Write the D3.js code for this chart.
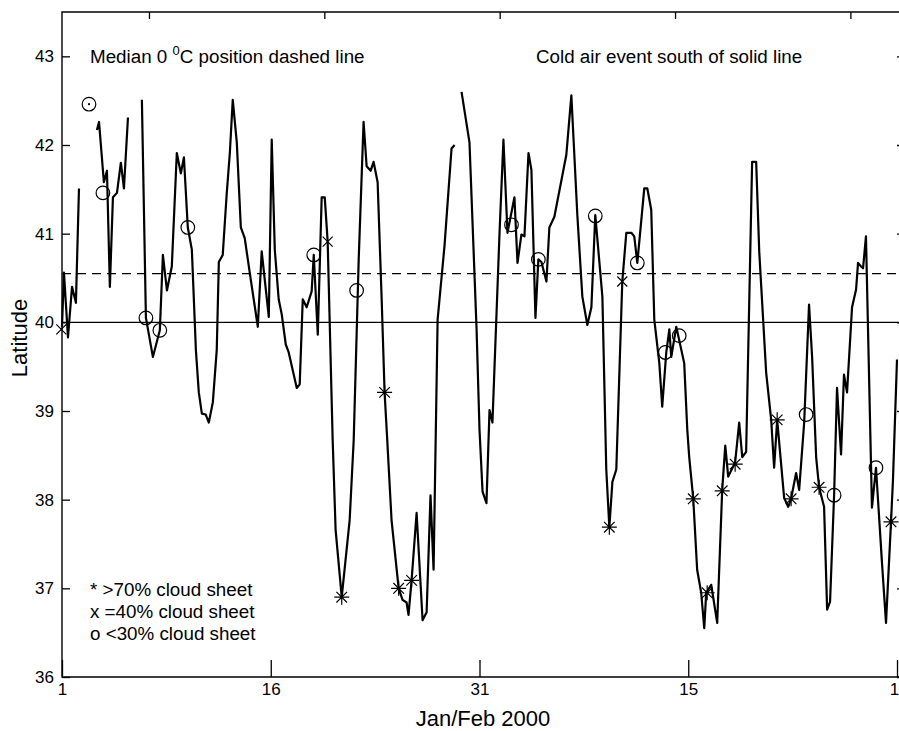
<!DOCTYPE html>
<html><head><meta charset="utf-8">
<script src="https://cdn.jsdelivr.net/npm/d3@7"></script>
<style>
body{margin:0;background:#fff;}
svg{display:block;font-family:"Liberation Sans",Arial,Helvetica,sans-serif;}
</style>
</head><body>
<svg id="chart" width="899" height="731"></svg>
<script>
// ---- data (day of Jan/Feb 2000 counted from Jan 1 = 1; latitude in degrees) ----
const days = [
  1.00,1.14,1.43,1.72,2.00,2.22,null,
  2.94,null,
  3.51,3.66,4.01,4.23,4.44,4.66,4.95,5.23,5.45,5.74,null,
  6.74,7.03,7.53,8.03,8.25,8.54,8.89,9.25,9.54,9.76,
  10.04,10.33,10.62,10.83,11.05,11.33,11.55,11.84,12.12,12.27,
  12.55,12.84,13.06,13.27,13.56,13.85,14.13,14.49,15.07,15.35,
  15.86,16.07,16.29,16.57,16.79,17.08,17.29,17.87,18.08,18.30,
  18.58,18.94,19.09,19.38,19.66,19.88,20.09,20.45,20.66,21.10,
  21.67,21.96,22.32,22.67,22.89,23.18,23.39,23.68,23.97,24.18,
  24.33,24.68,25.19,25.47,25.76,25.90,26.12,26.48,26.91,27.20,
  27.48,27.70,27.99,28.49,28.99,29.21,null,
  29.71,30.28,30.79,31.00,31.22,31.50,31.72,31.93,32.44,32.72,
  33.01,33.51,33.73,34.01,34.23,34.52,34.73,35.02,35.23,35.45,
  35.81,36.02,36.38,37.24,37.60,38.03,38.39,38.75,39.04,39.32,
  39.83,40.11,40.33,40.55,40.83,41.26,41.55,41.91,42.12,42.34,
  42.84,43.06,43.34,43.56,43.92,44.13,44.42,44.64,44.78,45.14,
  45.71,45.93,46.07,46.36,46.64,46.93,47.15,47.29,47.65,48.08,
  48.44,48.66,48.87,49.37,49.66,49.88,50.16,50.59,50.88,51.10,
  51.60,51.96,52.17,52.39,52.89,53.18,53.39,53.75,53.97,54.33,
  54.68,54.90,55.19,55.40,55.76,55.98,56.19,56.48,56.69,56.98,
  57.19,57.41,57.77,58.06,58.20,58.42,58.56,58.77,59.20,59.49,
  59.92,60.21,60.57,60.71,61.00
];
const latitude = [
  39.95,40.56,39.83,40.40,40.22,41.51,null,
  42.46,null,
  42.17,42.26,41.58,41.71,40.40,41.41,41.46,41.80,41.51,42.31,null,
  42.51,40.05,39.61,39.91,40.76,40.36,40.63,41.91,41.68,41.86,
  41.07,40.82,39.69,39.21,38.97,38.96,38.87,39.10,39.69,40.68,
  40.76,41.46,41.91,42.51,42.03,41.07,40.95,40.56,39.95,40.80,
  40.06,42.06,40.82,40.26,40.09,39.75,39.66,39.26,39.30,40.26,
  40.17,40.35,40.76,39.86,41.41,41.41,40.91,38.67,37.66,36.90,
  37.77,38.67,40.71,42.26,41.76,41.71,41.81,41.58,40.26,39.21,
  38.79,37.77,37.00,36.87,36.84,36.70,37.09,37.85,36.64,36.73,
  38.05,37.21,40.03,40.87,41.96,42.00,null,
  42.60,42.03,39.92,38.79,38.09,37.96,39.01,38.87,41.01,42.06,
  41.01,41.41,40.67,40.99,40.97,41.91,41.72,40.05,40.71,40.68,
  40.46,41.07,41.19,41.89,42.56,41.21,40.29,39.97,40.17,41.21,
  40.29,38.34,37.69,38.20,38.34,40.46,41.01,41.01,40.97,40.67,
  41.51,41.51,41.27,40.03,39.54,39.05,39.66,39.92,39.61,39.95,
  39.54,38.79,38.48,38.01,37.21,36.95,36.55,36.95,37.04,36.61,
  38.11,38.61,38.26,38.42,38.87,38.48,38.54,41.81,41.81,40.80,
  39.43,38.90,38.36,38.90,38.02,37.92,38.01,38.30,38.11,38.87,
  40.20,39.61,38.48,38.14,37.92,36.76,36.85,38.05,39.26,38.51,
  39.41,39.21,40.17,40.37,40.67,40.63,40.61,40.97,37.91,38.36,
  37.29,36.61,37.75,38.22,39.58
];
// markers: o <30% cloud sheet, x =40%, * >70%
const circleDays = [2.94,3.94,7.03,8.03,10.04,19.09,22.17,33.30,35.23,39.32,42.34,44.35,45.35,54.47,56.48,59.49];
const circleLat  = [42.46,41.46,40.05,39.91,41.07,40.76,40.36,41.10,40.71,41.20,40.67,39.66,39.85,38.96,38.05,38.36];
const crossDays = [0.95,20.09,41.26];
const crossLat  = [39.92,40.91,40.46];
const starDays = [21.10,24.18,25.19,26.12,40.33,46.36,47.36,48.44,49.37,52.39,53.39,55.40,60.57];
const starLat  = [36.90,39.21,37.00,37.09,37.69,38.01,36.95,38.10,38.40,38.90,38.01,38.14,37.75];

const medianLat = 40.55;   // dashed line
const coldLat = 40.0;      // solid line

const yTicks = [36,37,38,39,40,41,42,43];
const xTickDays = [1,16,31,46,61];
const xTickLabels = ["1","16","31","15","1"];
const topTickDays = [7.25,19.85,32.45,45.05,57.65];

const annotations = ["Cold air event south of solid line"];
const legendLines = ["* >70% cloud sheet","x =40% cloud sheet","o <30% cloud sheet"];

// ---- drawing ----
const svg = d3.select("#chart");
const L = 62, R = 905, T = 12, B = 677;
const x = d3.scaleLinear().domain([1,61]).range([62,897]);
const y = d3.scaleLinear().domain([36,43.5]).range([B,T]);

svg.append("rect").attr("width",899).attr("height",731).attr("fill","#fff");

// frame
svg.append("path")
  .attr("d",`M${L},${T}H${R}V${B}H${L}Z`)
  .attr("fill","none").attr("stroke","#000").attr("stroke-width",1.4);

// reference lines
svg.append("line").attr("x1",L).attr("x2",R).attr("y1",y(coldLat)).attr("y2",y(coldLat))
  .attr("stroke","#000").attr("stroke-width",1.2);
svg.append("line").attr("x1",L).attr("x2",R).attr("y1",y(medianLat)).attr("y2",y(medianLat))
  .attr("stroke","#000").attr("stroke-width",1.2).attr("stroke-dasharray","9,6");

// axes
function styleAxis(g){
  g.attr("font-family","'Liberation Sans',Arial,Helvetica,sans-serif").attr("font-size",17);
  g.select(".domain").remove();
  g.selectAll(".tick line").attr("stroke","#000").attr("stroke-width",1.3);
  g.selectAll(".tick text").attr("fill","#000");
}
svg.append("g").attr("transform",`translate(${L},0)`)
  .call(d3.axisLeft(y).tickValues(yTicks).tickFormat(d3.format("d")).tickSizeInner(-8).tickSizeOuter(0).tickPadding(8))
  .call(styleAxis);
svg.append("g").attr("transform",`translate(${R},0)`)
  .call(d3.axisRight(y).tickValues(yTicks).tickFormat("").tickSizeInner(-8).tickSizeOuter(0))
  .call(styleAxis);
const xAxisG = svg.append("g").attr("transform",`translate(0,${B})`)
  .call(d3.axisBottom(x).tickValues(xTickDays).tickFormat((d,i)=>xTickLabels[i]).tickSizeInner(-17).tickSizeOuter(0).tickPadding(6))
  .call(styleAxis);
// keep the last label inside the picture
xAxisG.selectAll(".tick text").filter((d,i)=>i===xTickDays.length-1).attr("dx",-3);
svg.append("g").attr("transform",`translate(0,${T})`)
  .call(d3.axisTop(x).tickValues(topTickDays).tickFormat("").tickSizeInner(-7).tickSizeOuter(0))
  .call(styleAxis);

// data line
const pts = days.map((d,i)=>({d:d, v:latitude[i]}));
const line = d3.line().defined(p=>p.v!=null && p.d!=null).x(p=>x(p.d)).y(p=>y(p.v));
svg.append("path").datum(pts).attr("d",line)
  .attr("fill","none").attr("stroke","#000").attr("stroke-width",2.2)
  .attr("stroke-linejoin","round");
// isolated single points
pts.forEach((p,i)=>{
  if(p.v==null) return;
  const prev = i>0 ? pts[i-1].v : null, next = i<pts.length-1 ? pts[i+1].v : null;
  if(prev==null && next==null){
    svg.append("circle").attr("cx",x(p.d)).attr("cy",y(p.v)).attr("r",1.1).attr("fill","#000");
  }
});

// markers
const mk = svg.append("g").attr("fill","none").attr("stroke","#000").attr("stroke-width",1.2);
circleDays.forEach((d,i)=>{
  mk.append("circle").attr("cx",x(d)).attr("cy",y(circleLat[i])).attr("r",6.8);
});
crossDays.forEach((d,i)=>{
  const cx=x(d), cy=y(crossLat[i]), s=5;
  mk.append("path").attr("d",`M${cx-s},${cy-s}L${cx+s},${cy+s}M${cx-s},${cy+s}L${cx+s},${cy-s}`);
});
starDays.forEach((d,i)=>{
  const cx=x(d), cy=y(starLat[i]), s=7.5, t=5.3;
  mk.append("path").attr("d",
    `M${cx-s},${cy}L${cx+s},${cy}M${cx},${cy-s}L${cx},${cy+s}M${cx-t},${cy-t}L${cx+t},${cy+t}M${cx-t},${cy+t}L${cx+t},${cy-t}`);
});

// annotation texts
const fs = 18.8;
const t1 = svg.append("text").attr("x",90).attr("y",63).attr("font-size",fs).attr("fill","#000");
t1.append("tspan").text("Median 0 ");
t1.append("tspan").attr("font-size",13).attr("dy",-8).text("0");
t1.append("tspan").attr("dy",8).text("C position dashed line");
svg.append("text").attr("x",536).attr("y",63).attr("font-size",fs).attr("fill","#000").text(annotations[0]);

legendLines.forEach((s,i)=>{
  svg.append("text").attr("x",90).attr("y",596+i*21.8).attr("font-size",fs).attr("fill","#000").text(s);
});

// axis titles
svg.append("text").attr("transform","translate(27,338) rotate(-90)").attr("text-anchor","middle")
  .attr("font-size",22).attr("fill","#000").text("Latitude");
svg.append("text").attr("x",483).attr("y",726).attr("text-anchor","middle")
  .attr("font-size",22).attr("fill","#000").text("Jan/Feb 2000");
</script>
</body></html>
